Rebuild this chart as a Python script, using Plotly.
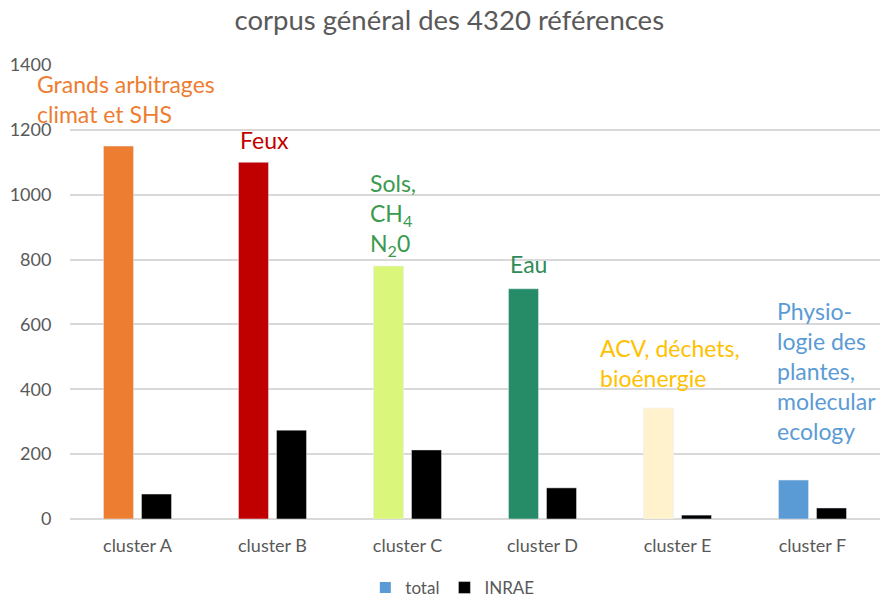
import plotly.graph_objects as go

categories = ["cluster A", "cluster B", "cluster C", "cluster D", "cluster E", "cluster F"]
total = [1150, 1100, 780, 710, 342, 120]
inrae = [77, 274, 213, 96, 12, 34]
total_colors = ["#ED7D31", "#C00000", "#DAF77B", "#268C68", "#FFF2CC", "#5B9BD5"]

labels = [
    ("Grands arbitrages<br>climat et SHS", -0.76, 1295, "#ED7D31"),
    ("Feux", 0.744, 1170, "#C00000"),
    ("Sols,<br>CH<sub>4</sub><br>N<sub>2</sub>0", 1.707, 940, "#3A9A4E"),
    ("Eau", 2.744, 787, "#2E8B57"),
    ("ACV, déchets,<br>bioénergie", 3.41, 480, "#FFC000"),
    ("Physio-<br>logie des<br>plantes,<br>molecular<br>ecology", 4.72, 455, "#5B9BD5"),
]

xs = list(range(len(categories)))
FONT = "Lato, Open Sans, sans-serif"
GRAY = "#595959"

fig = go.Figure()
fig.add_trace(go.Bar(x=xs, y=total, name="total", marker=dict(color=total_colors),
                     showlegend=False))
fig.add_trace(go.Bar(x=xs, y=inrae, name="INRAE", marker=dict(color="#000000"),
                     legendrank=2))
# legend proxy for "total"
fig.add_trace(go.Scatter(x=[None], y=[None], name="total", mode="markers",
                         marker=dict(symbol="square", size=11, color="#5B9BD5"),
                         showlegend=True, legendrank=1))

# convert category position to paper fraction (range -0.5..5.5)
for text, x, y, c in labels:
    fig.add_annotation(x=(x + 0.5) / 6.0, y=y, xref="paper", yref="y", text=text,
                       showarrow=False, xanchor="left", yanchor="middle", align="left",
                       font=dict(family=FONT, size=23, color=c))

fig.update_layout(
    width=881, height=598,
    margin=dict(l=70, r=1, t=65, b=79),
    paper_bgcolor="white", plot_bgcolor="white",
    barmode="group", bargap=0.437, bargroupgap=0.21,
    font=dict(family=FONT, color=GRAY),
    title=dict(text="corpus général des 4320 références", x=0.51, xanchor="center",
               y=0.966, yanchor="middle", font=dict(family=FONT, size=27.5, color=GRAY)),
    legend=dict(orientation="h", xref="container", yref="container",
                x=0.514, xanchor="center", y=0.0167, yanchor="middle",
                font=dict(family=FONT, size=17, color=GRAY), itemwidth=30,
                traceorder="normal"),
)
fig.update_xaxes(tickmode="array", tickvals=xs, ticktext=categories, range=[-0.5, 5.5],
                 showgrid=False, zeroline=False, showline=False, automargin=False,
                 ticks="outside", ticklen=10, tickcolor="rgba(0,0,0,0)",
                 tickfont=dict(family=FONT, size=18, color=GRAY))
fig.update_yaxes(range=[0, 1400], dtick=200, showgrid=True, gridcolor="#D9D9D9",
                 gridwidth=1.5, zeroline=True, zerolinecolor="#D9D9D9", zerolinewidth=1.5,
                 automargin=False,
                 ticks="outside", ticklen=14, tickcolor="rgba(0,0,0,0)",
                 tickfont=dict(family=FONT, size=18, color=GRAY))

fig.write_html("out.html", config={"displayModeBar": False},
               post_script="document.body.style.margin='0';")
